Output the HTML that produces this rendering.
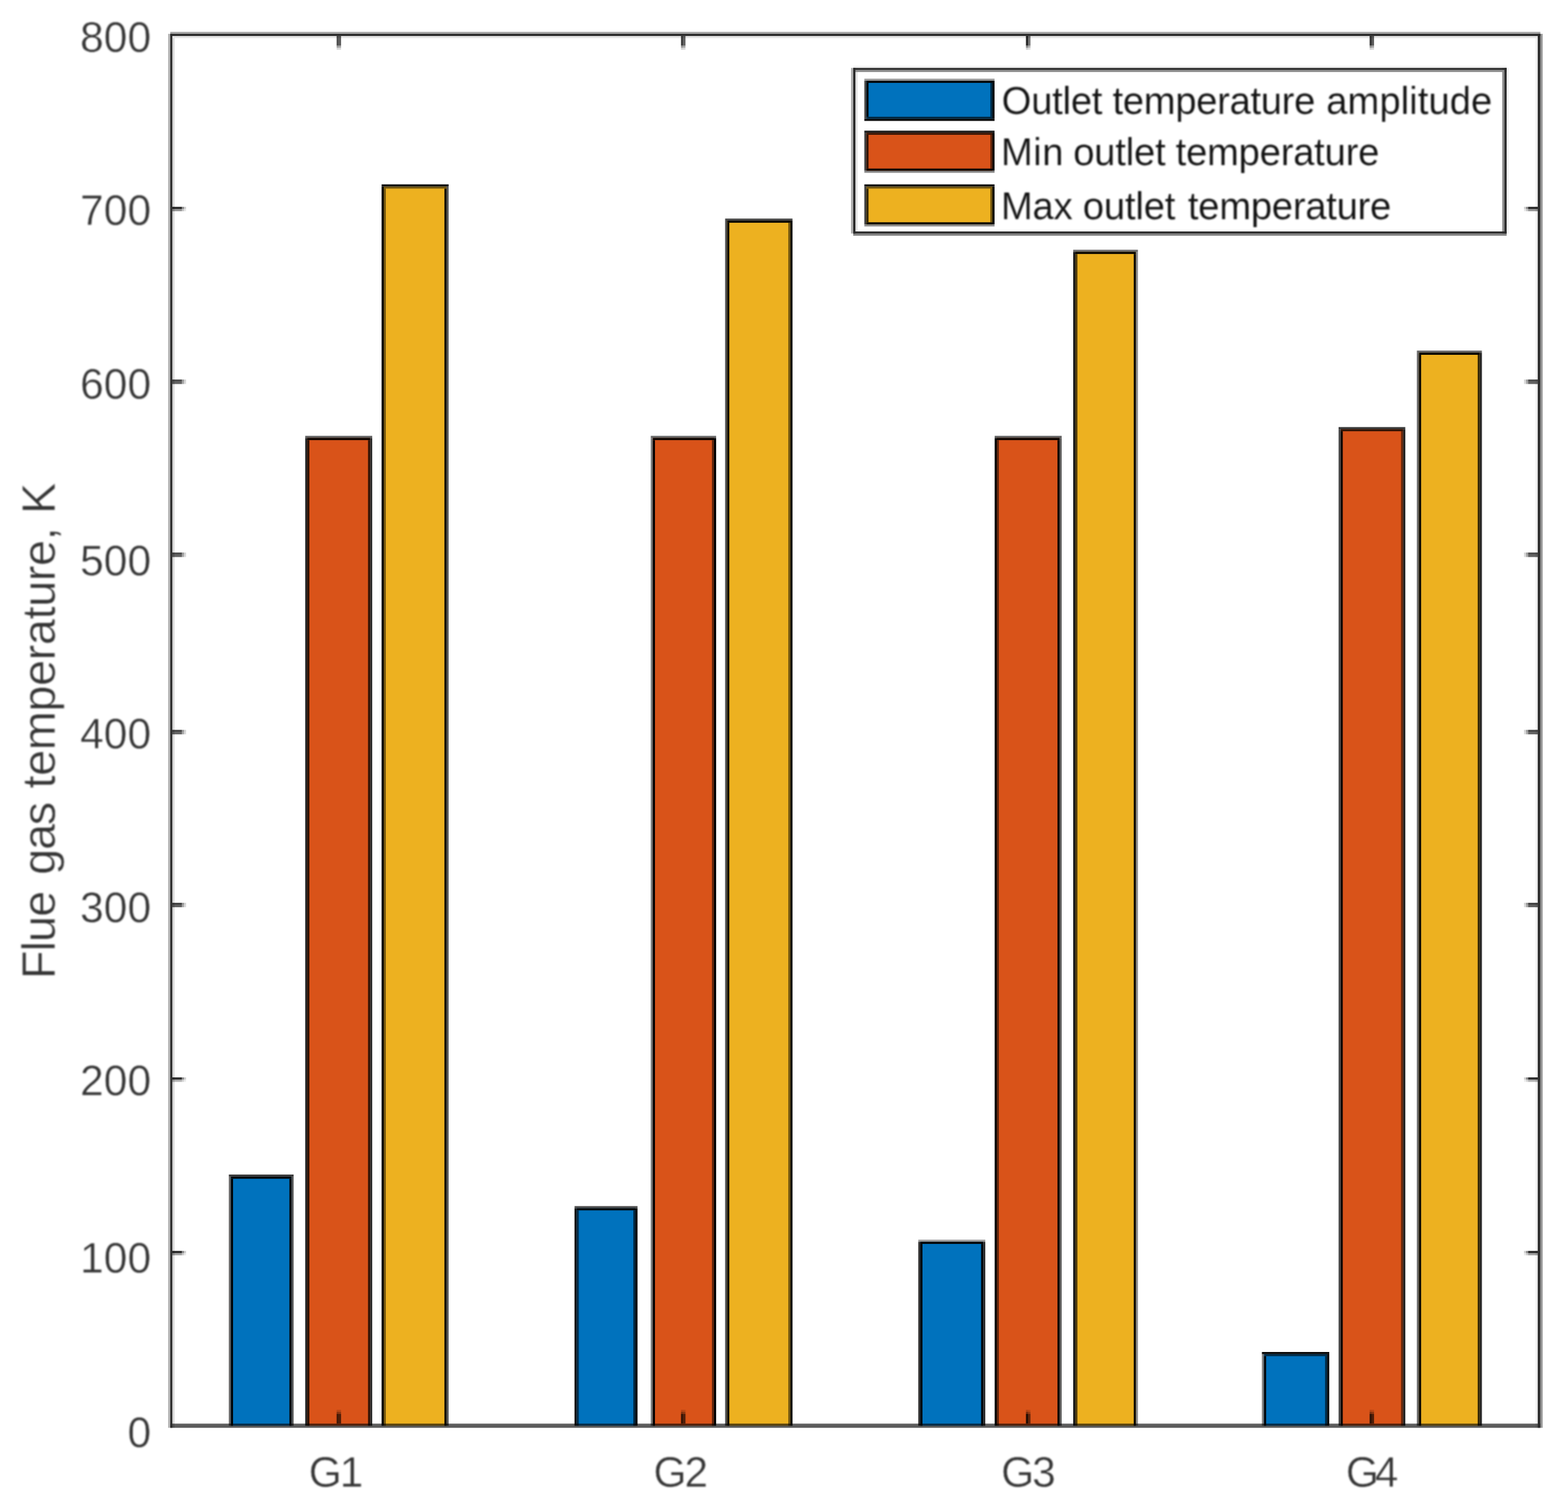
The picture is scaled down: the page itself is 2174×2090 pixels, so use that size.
<!DOCTYPE html>
<html lang="en"><head><meta charset="utf-8"><title>Flue gas temperature chart</title>
<style>
html,body{margin:0;padding:0;background:#fff;}
body{width:2174px;height:2090px;overflow:hidden;}
svg{display:block;}
text{font-family:"Liberation Sans",sans-serif;}
.soft{filter:blur(0.6px);}
.tsoft{filter:blur(1.2px);}
</style></head><body>
<svg width="2174" height="2090" viewBox="0 0 2174 2090" role="img" aria-label="Grouped bar chart of flue gas temperature for G1 to G4">
<rect x="0" y="0" width="2174" height="2090" fill="#ffffff"/>
<g class="soft">
<g fill="#000000">
<rect x="320.2" y="1631.8" width="84" height="345.5" fill="#0072BD"/>
<rect x="320.2" y="1634.7" width="2.9" height="342.6" fill-opacity="1"/>
<rect x="401.3" y="1634.7" width="2.9" height="342.6" fill-opacity="1"/>
<rect x="320.2" y="1631.8" width="84" height="2.9" fill-opacity="0.98"/>
<rect x="317.3" y="1631.8" width="2.9" height="345.5" fill-opacity="0.61"/>
<rect x="404.2" y="1631.8" width="2.9" height="345.5" fill-opacity="0.66"/>
<rect x="317.3" y="1628.9" width="89.8" height="2.9" fill-opacity="0.78"/>
<rect x="426.1" y="607.4" width="87.1" height="1369.9" fill="#D95319"/>
<rect x="426.1" y="610.3" width="2.9" height="1367" fill-opacity="0.77"/>
<rect x="510.3" y="610.3" width="2.9" height="1367" fill-opacity="0.77"/>
<rect x="426.1" y="607.4" width="87.1" height="2.9" fill-opacity="1"/>
<rect x="423.2" y="607.4" width="2.9" height="1369.9" fill-opacity="0.86"/>
<rect x="513.2" y="607.4" width="2.9" height="1369.9" fill-opacity="0.83"/>
<rect x="423.2" y="604.5" width="92.9" height="2.9" fill-opacity="0.64"/>
<rect x="532" y="258.6" width="87.1" height="1718.7" fill="#EDB120"/>
<rect x="532" y="261.5" width="2.9" height="1715.8" fill-opacity="0.52"/>
<rect x="616.2" y="261.5" width="2.9" height="1715.8" fill-opacity="0.94"/>
<rect x="532" y="258.6" width="87.1" height="2.9" fill-opacity="0.52"/>
<rect x="529.1" y="258.6" width="2.9" height="1718.7" fill-opacity="1"/>
<rect x="619.1" y="258.6" width="2.9" height="1718.7" fill-opacity="0.66"/>
<rect x="529.1" y="255.7" width="92.9" height="2.9" fill-opacity="0.98"/>
<rect x="799.5" y="1675.6" width="81.5" height="301.7" fill="#0072BD"/>
<rect x="799.5" y="1678.5" width="2.9" height="298.8" fill-opacity="0.61"/>
<rect x="878.1" y="1678.5" width="2.9" height="298.8" fill-opacity="0.66"/>
<rect x="799.5" y="1675.6" width="81.5" height="2.9" fill-opacity="1"/>
<rect x="796.6" y="1675.6" width="2.9" height="301.7" fill-opacity="1"/>
<rect x="881" y="1675.6" width="2.9" height="301.7" fill-opacity="0.96"/>
<rect x="796.6" y="1672.7" width="87.3" height="2.9" fill-opacity="0.71"/>
<rect x="905.2" y="607.4" width="84.8" height="1369.9" fill="#D95319"/>
<rect x="905.2" y="610.3" width="2.9" height="1367" fill-opacity="1"/>
<rect x="987.1" y="610.3" width="2.9" height="1367" fill-opacity="0.56"/>
<rect x="905.2" y="607.4" width="84.8" height="2.9" fill-opacity="1"/>
<rect x="902.3" y="607.4" width="2.9" height="1369.9" fill-opacity="0.54"/>
<rect x="990" y="607.4" width="2.9" height="1369.9" fill-opacity="1"/>
<rect x="902.3" y="604.5" width="90.6" height="2.9" fill-opacity="0.61"/>
<rect x="1008.3" y="306" width="87.55" height="1671.3" fill="#EDB120"/>
<rect x="1008.3" y="308.9" width="2.9" height="1668.4" fill-opacity="0.96"/>
<rect x="1092.95" y="308.9" width="2.9" height="1668.4" fill-opacity="0.52"/>
<rect x="1008.3" y="306" width="87.55" height="2.9" fill-opacity="0.98"/>
<rect x="1005.4" y="306" width="2.9" height="1671.3" fill-opacity="0.71"/>
<rect x="1095.85" y="306" width="2.9" height="1671.3" fill-opacity="0.99"/>
<rect x="1005.4" y="303.1" width="93.35" height="2.9" fill-opacity="0.71"/>
<rect x="1276.1" y="1722.2" width="87.1" height="255.1" fill="#0072BD"/>
<rect x="1276.1" y="1725.1" width="2.9" height="252.2" fill-opacity="0.96"/>
<rect x="1360.3" y="1725.1" width="2.9" height="252.2" fill-opacity="0.96"/>
<rect x="1276.1" y="1722.2" width="87.1" height="2.9" fill-opacity="1"/>
<rect x="1273.2" y="1722.2" width="2.9" height="255.1" fill-opacity="0.81"/>
<rect x="1363.2" y="1722.2" width="2.9" height="255.1" fill-opacity="0.83"/>
<rect x="1273.2" y="1719.3" width="92.9" height="2.9" fill-opacity="0.39"/>
<rect x="1382" y="607.4" width="87.1" height="1369.9" fill="#D95319"/>
<rect x="1382" y="610.3" width="2.9" height="1367" fill-opacity="0.56"/>
<rect x="1466.2" y="610.3" width="2.9" height="1367" fill-opacity="0.98"/>
<rect x="1382" y="607.4" width="87.1" height="2.9" fill-opacity="1"/>
<rect x="1379.1" y="607.4" width="2.9" height="1369.9" fill-opacity="0.99"/>
<rect x="1469.1" y="607.4" width="2.9" height="1369.9" fill-opacity="0.63"/>
<rect x="1379.1" y="604.5" width="92.9" height="2.9" fill-opacity="0.64"/>
<rect x="1490.9" y="349.3" width="83.9" height="1628" fill="#EDB120"/>
<rect x="1490.9" y="352.2" width="2.9" height="1625.1" fill-opacity="0.66"/>
<rect x="1571.9" y="352.2" width="2.9" height="1625.1" fill-opacity="1"/>
<rect x="1490.9" y="349.3" width="83.9" height="2.9" fill-opacity="1"/>
<rect x="1488" y="349.3" width="2.9" height="1628" fill-opacity="0.91"/>
<rect x="1574.8" y="349.3" width="2.9" height="1628" fill-opacity="0.46"/>
<rect x="1488" y="346.4" width="89.7" height="2.9" fill-opacity="0.58"/>
<rect x="1752.5" y="1877.9" width="87.6" height="99.4" fill="#0072BD"/>
<rect x="1752.5" y="1880.8" width="2.9" height="96.5" fill-opacity="1"/>
<rect x="1837.2" y="1880.8" width="2.9" height="96.5" fill-opacity="0.61"/>
<rect x="1752.5" y="1877.9" width="87.6" height="2.9" fill-opacity="0.61"/>
<rect x="1749.6" y="1877.9" width="2.9" height="99.4" fill-opacity="0.51"/>
<rect x="1840.1" y="1877.9" width="2.9" height="99.4" fill-opacity="1"/>
<rect x="1749.6" y="1875" width="93.4" height="2.9" fill-opacity="0.96"/>
<rect x="1858.8" y="595.2" width="86.7" height="1382.1" fill="#D95319"/>
<rect x="1858.8" y="598.1" width="2.9" height="1379.2" fill-opacity="0.96"/>
<rect x="1942.6" y="598.1" width="2.9" height="1379.2" fill-opacity="0.56"/>
<rect x="1858.8" y="595.2" width="86.7" height="2.9" fill-opacity="0.77"/>
<rect x="1855.9" y="595.2" width="2.9" height="1382.1" fill-opacity="0.71"/>
<rect x="1945.5" y="595.2" width="2.9" height="1382.1" fill-opacity="0.91"/>
<rect x="1855.9" y="592.3" width="92.5" height="2.9" fill-opacity="0.78"/>
<rect x="1967.4" y="489.15" width="84.3" height="1488.15" fill="#EDB120"/>
<rect x="1967.4" y="492.05" width="2.9" height="1485.25" fill-opacity="1"/>
<rect x="2048.8" y="492.05" width="2.9" height="1485.25" fill-opacity="0.79"/>
<rect x="1967.4" y="489.15" width="84.3" height="2.9" fill-opacity="1"/>
<rect x="1964.5" y="489.15" width="2.9" height="1488.15" fill-opacity="0.61"/>
<rect x="2051.7" y="489.15" width="2.9" height="1488.15" fill-opacity="0.86"/>
<rect x="1964.5" y="486.25" width="90.1" height="2.9" fill-opacity="0.61"/>
</g>
<g>
<rect x="233.1" y="46.9" width="3" height="1933.3" fill="#b4b4b4"/>
<rect x="238.9" y="46.9" width="3" height="1933.3" fill="#d8d8d8"/>
<rect x="2129.3" y="46.9" width="2.8" height="1933.3" fill="#ececec"/>
<rect x="2135.7" y="46.9" width="3.1" height="1933.3" fill="#969696"/>
<rect x="236.1" y="44.2" width="1899.6" height="2.7" fill="#a4a4a4"/>
<rect x="236.1" y="49.9" width="1899.6" height="2.9" fill="#e4e4e4"/>
<rect x="236.1" y="1974.4" width="1899.6" height="5.8" fill="rgba(0,0,0,0.64)"/>
<rect x="236.1" y="46.9" width="2.8" height="1933.3" fill="#2a2a2a"/>
<rect x="2132.1" y="46.9" width="3.6" height="1933.3" fill="#2a2a2a"/>
<rect x="236.1" y="46.9" width="1899.6" height="3" fill="#2a2a2a"/>
</g>
<g fill="#000000">
<rect x="238.9" y="286.8" width="13.4" height="3.1" fill-opacity="0.84"/>
<rect x="238.9" y="289.9" width="13.4" height="3.1" fill-opacity="0.4"/>
<rect x="252.3" y="286.8" width="2.9" height="3.1" fill-opacity="0.46"/>
<rect x="252.3" y="289.9" width="2.9" height="3.1" fill-opacity="0.22"/>
<rect x="255.2" y="286.8" width="2.9" height="3.1" fill-opacity="0.18"/>
<rect x="255.2" y="289.9" width="2.9" height="3.1" fill-opacity="0.09"/>
<rect x="2118.7" y="286.8" width="13.4" height="3.1" fill-opacity="0.84"/>
<rect x="2118.7" y="289.9" width="13.4" height="3.1" fill-opacity="0.4"/>
<rect x="2115.8" y="286.8" width="2.9" height="3.1" fill-opacity="0.46"/>
<rect x="2115.8" y="289.9" width="2.9" height="3.1" fill-opacity="0.22"/>
<rect x="2112.9" y="286.8" width="2.9" height="3.1" fill-opacity="0.18"/>
<rect x="2112.9" y="289.9" width="2.9" height="3.1" fill-opacity="0.09"/>
<rect x="238.9" y="526.35" width="13.4" height="3.1" fill-opacity="0.72"/>
<rect x="238.9" y="529.45" width="13.4" height="3.1" fill-opacity="0.63"/>
<rect x="252.3" y="526.35" width="2.9" height="3.1" fill-opacity="0.4"/>
<rect x="252.3" y="529.45" width="2.9" height="3.1" fill-opacity="0.35"/>
<rect x="255.2" y="526.35" width="2.9" height="3.1" fill-opacity="0.16"/>
<rect x="255.2" y="529.45" width="2.9" height="3.1" fill-opacity="0.14"/>
<rect x="2118.7" y="526.35" width="13.4" height="3.1" fill-opacity="0.72"/>
<rect x="2118.7" y="529.45" width="13.4" height="3.1" fill-opacity="0.63"/>
<rect x="2115.8" y="526.35" width="2.9" height="3.1" fill-opacity="0.4"/>
<rect x="2115.8" y="529.45" width="2.9" height="3.1" fill-opacity="0.35"/>
<rect x="2112.9" y="526.35" width="2.9" height="3.1" fill-opacity="0.16"/>
<rect x="2112.9" y="529.45" width="2.9" height="3.1" fill-opacity="0.14"/>
<rect x="238.9" y="766.3" width="13.4" height="3.1" fill-opacity="0.72"/>
<rect x="238.9" y="769.4" width="13.4" height="3.1" fill-opacity="0.63"/>
<rect x="252.3" y="766.3" width="2.9" height="3.1" fill-opacity="0.4"/>
<rect x="252.3" y="769.4" width="2.9" height="3.1" fill-opacity="0.35"/>
<rect x="255.2" y="766.3" width="2.9" height="3.1" fill-opacity="0.16"/>
<rect x="255.2" y="769.4" width="2.9" height="3.1" fill-opacity="0.14"/>
<rect x="2118.7" y="766.3" width="13.4" height="3.1" fill-opacity="0.72"/>
<rect x="2118.7" y="769.4" width="13.4" height="3.1" fill-opacity="0.63"/>
<rect x="2115.8" y="766.3" width="2.9" height="3.1" fill-opacity="0.4"/>
<rect x="2115.8" y="769.4" width="2.9" height="3.1" fill-opacity="0.35"/>
<rect x="2112.9" y="766.3" width="2.9" height="3.1" fill-opacity="0.16"/>
<rect x="2112.9" y="769.4" width="2.9" height="3.1" fill-opacity="0.14"/>
<rect x="238.9" y="1012.2" width="13.4" height="3.1" fill-opacity="0.72"/>
<rect x="238.9" y="1015.3" width="13.4" height="3.1" fill-opacity="0.63"/>
<rect x="252.3" y="1012.2" width="2.9" height="3.1" fill-opacity="0.4"/>
<rect x="252.3" y="1015.3" width="2.9" height="3.1" fill-opacity="0.35"/>
<rect x="255.2" y="1012.2" width="2.9" height="3.1" fill-opacity="0.16"/>
<rect x="255.2" y="1015.3" width="2.9" height="3.1" fill-opacity="0.14"/>
<rect x="2118.7" y="1012.2" width="13.4" height="3.1" fill-opacity="0.72"/>
<rect x="2118.7" y="1015.3" width="13.4" height="3.1" fill-opacity="0.63"/>
<rect x="2115.8" y="1012.2" width="2.9" height="3.1" fill-opacity="0.4"/>
<rect x="2115.8" y="1015.3" width="2.9" height="3.1" fill-opacity="0.35"/>
<rect x="2112.9" y="1012.2" width="2.9" height="3.1" fill-opacity="0.16"/>
<rect x="2112.9" y="1015.3" width="2.9" height="3.1" fill-opacity="0.14"/>
<rect x="238.9" y="1252" width="13.4" height="3.1" fill-opacity="0.72"/>
<rect x="238.9" y="1255.1" width="13.4" height="3.1" fill-opacity="0.63"/>
<rect x="252.3" y="1252" width="2.9" height="3.1" fill-opacity="0.4"/>
<rect x="252.3" y="1255.1" width="2.9" height="3.1" fill-opacity="0.35"/>
<rect x="255.2" y="1252" width="2.9" height="3.1" fill-opacity="0.16"/>
<rect x="255.2" y="1255.1" width="2.9" height="3.1" fill-opacity="0.14"/>
<rect x="2118.7" y="1252" width="13.4" height="3.1" fill-opacity="0.72"/>
<rect x="2118.7" y="1255.1" width="13.4" height="3.1" fill-opacity="0.63"/>
<rect x="2115.8" y="1252" width="2.9" height="3.1" fill-opacity="0.4"/>
<rect x="2115.8" y="1255.1" width="2.9" height="3.1" fill-opacity="0.35"/>
<rect x="2112.9" y="1252" width="2.9" height="3.1" fill-opacity="0.16"/>
<rect x="2112.9" y="1255.1" width="2.9" height="3.1" fill-opacity="0.14"/>
<rect x="238.9" y="1494.2" width="13.4" height="3.1" fill-opacity="0.84"/>
<rect x="238.9" y="1497.3" width="13.4" height="3.1" fill-opacity="0.3"/>
<rect x="252.3" y="1494.2" width="2.9" height="3.1" fill-opacity="0.46"/>
<rect x="252.3" y="1497.3" width="2.9" height="3.1" fill-opacity="0.17"/>
<rect x="255.2" y="1494.2" width="2.9" height="3.1" fill-opacity="0.18"/>
<rect x="255.2" y="1497.3" width="2.9" height="3.1" fill-opacity="0.07"/>
<rect x="2118.7" y="1494.2" width="13.4" height="3.1" fill-opacity="0.84"/>
<rect x="2118.7" y="1497.3" width="13.4" height="3.1" fill-opacity="0.3"/>
<rect x="2115.8" y="1494.2" width="2.9" height="3.1" fill-opacity="0.46"/>
<rect x="2115.8" y="1497.3" width="2.9" height="3.1" fill-opacity="0.17"/>
<rect x="2112.9" y="1494.2" width="2.9" height="3.1" fill-opacity="0.18"/>
<rect x="2112.9" y="1497.3" width="2.9" height="3.1" fill-opacity="0.07"/>
<rect x="238.9" y="1734.8" width="13.4" height="3.1" fill-opacity="0.84"/>
<rect x="238.9" y="1737.9" width="13.4" height="3.1" fill-opacity="0.36"/>
<rect x="252.3" y="1734.8" width="2.9" height="3.1" fill-opacity="0.46"/>
<rect x="252.3" y="1737.9" width="2.9" height="3.1" fill-opacity="0.2"/>
<rect x="255.2" y="1734.8" width="2.9" height="3.1" fill-opacity="0.18"/>
<rect x="255.2" y="1737.9" width="2.9" height="3.1" fill-opacity="0.08"/>
<rect x="2118.7" y="1734.8" width="13.4" height="3.1" fill-opacity="0.84"/>
<rect x="2118.7" y="1737.9" width="13.4" height="3.1" fill-opacity="0.36"/>
<rect x="2115.8" y="1734.8" width="2.9" height="3.1" fill-opacity="0.46"/>
<rect x="2115.8" y="1737.9" width="2.9" height="3.1" fill-opacity="0.2"/>
<rect x="2112.9" y="1734.8" width="2.9" height="3.1" fill-opacity="0.18"/>
<rect x="2112.9" y="1737.9" width="2.9" height="3.1" fill-opacity="0.08"/>
<rect x="466.7" y="1961" width="3.1" height="13.4" fill-opacity="0.7"/>
<rect x="469.8" y="1961" width="3.1" height="13.4" fill-opacity="0.64"/>
<rect x="466.7" y="1958.1" width="3.1" height="2.9" fill-opacity="0.39"/>
<rect x="469.8" y="1958.1" width="3.1" height="2.9" fill-opacity="0.35"/>
<rect x="466.7" y="1955.2" width="3.1" height="2.9" fill-opacity="0.15"/>
<rect x="469.8" y="1955.2" width="3.1" height="2.9" fill-opacity="0.14"/>
<rect x="466.7" y="49.9" width="3.1" height="13.4" fill-opacity="0.7"/>
<rect x="469.8" y="49.9" width="3.1" height="13.4" fill-opacity="0.64"/>
<rect x="466.7" y="63.3" width="3.1" height="2.9" fill-opacity="0.39"/>
<rect x="469.8" y="63.3" width="3.1" height="2.9" fill-opacity="0.35"/>
<rect x="466.7" y="66.2" width="3.1" height="2.9" fill-opacity="0.15"/>
<rect x="469.8" y="66.2" width="3.1" height="2.9" fill-opacity="0.14"/>
<rect x="944.2" y="1961" width="3.1" height="13.4" fill-opacity="0.76"/>
<rect x="947.3" y="1961" width="3.1" height="13.4" fill-opacity="0.64"/>
<rect x="944.2" y="1958.1" width="3.1" height="2.9" fill-opacity="0.42"/>
<rect x="947.3" y="1958.1" width="3.1" height="2.9" fill-opacity="0.35"/>
<rect x="944.2" y="1955.2" width="3.1" height="2.9" fill-opacity="0.17"/>
<rect x="947.3" y="1955.2" width="3.1" height="2.9" fill-opacity="0.14"/>
<rect x="944.2" y="49.9" width="3.1" height="13.4" fill-opacity="0.76"/>
<rect x="947.3" y="49.9" width="3.1" height="13.4" fill-opacity="0.64"/>
<rect x="944.2" y="63.3" width="3.1" height="2.9" fill-opacity="0.42"/>
<rect x="947.3" y="63.3" width="3.1" height="2.9" fill-opacity="0.35"/>
<rect x="944.2" y="66.2" width="3.1" height="2.9" fill-opacity="0.17"/>
<rect x="947.3" y="66.2" width="3.1" height="2.9" fill-opacity="0.14"/>
<rect x="1422.5" y="1961" width="3.1" height="13.4" fill-opacity="0.88"/>
<rect x="1425.6" y="1961" width="3.1" height="13.4" fill-opacity="0.55"/>
<rect x="1422.5" y="1958.1" width="3.1" height="2.9" fill-opacity="0.48"/>
<rect x="1425.6" y="1958.1" width="3.1" height="2.9" fill-opacity="0.3"/>
<rect x="1422.5" y="1955.2" width="3.1" height="2.9" fill-opacity="0.19"/>
<rect x="1425.6" y="1955.2" width="3.1" height="2.9" fill-opacity="0.12"/>
<rect x="1422.5" y="49.9" width="3.1" height="13.4" fill-opacity="0.88"/>
<rect x="1425.6" y="49.9" width="3.1" height="13.4" fill-opacity="0.55"/>
<rect x="1422.5" y="63.3" width="3.1" height="2.9" fill-opacity="0.48"/>
<rect x="1425.6" y="63.3" width="3.1" height="2.9" fill-opacity="0.3"/>
<rect x="1422.5" y="66.2" width="3.1" height="2.9" fill-opacity="0.19"/>
<rect x="1425.6" y="66.2" width="3.1" height="2.9" fill-opacity="0.12"/>
<rect x="1898.9" y="1961" width="3.1" height="13.4" fill-opacity="0.76"/>
<rect x="1902" y="1961" width="3.1" height="13.4" fill-opacity="0.64"/>
<rect x="1898.9" y="1958.1" width="3.1" height="2.9" fill-opacity="0.42"/>
<rect x="1902" y="1958.1" width="3.1" height="2.9" fill-opacity="0.35"/>
<rect x="1898.9" y="1955.2" width="3.1" height="2.9" fill-opacity="0.17"/>
<rect x="1902" y="1955.2" width="3.1" height="2.9" fill-opacity="0.14"/>
<rect x="1898.9" y="49.9" width="3.1" height="13.4" fill-opacity="0.76"/>
<rect x="1902" y="49.9" width="3.1" height="13.4" fill-opacity="0.64"/>
<rect x="1898.9" y="63.3" width="3.1" height="2.9" fill-opacity="0.42"/>
<rect x="1902" y="63.3" width="3.1" height="2.9" fill-opacity="0.35"/>
<rect x="1898.9" y="66.2" width="3.1" height="2.9" fill-opacity="0.17"/>
<rect x="1902" y="66.2" width="3.1" height="2.9" fill-opacity="0.14"/>
</g>
<rect x="1183" y="94.2" width="905.9" height="232.7" fill="#ffffff"/>
<g>
<rect x="1179.9" y="94.2" width="3.1" height="229.6" fill="#acacac"/>
<rect x="1186" y="94.2" width="2.8" height="229.6" fill="#dedede"/>
<rect x="2082.8" y="94.2" width="3" height="229.6" fill="#8c8c8c"/>
<rect x="2088.9" y="94.2" width="2.8" height="229.6" fill="#f0f0f0"/>
<rect x="1183" y="91.4" width="905.9" height="2.8" fill="#f0f0f0"/>
<rect x="1183" y="96.9" width="905.9" height="3" fill="#8e8e8e"/>
<rect x="1183" y="323.8" width="905.9" height="3.1" fill="#828282"/>
<rect x="1183" y="94.2" width="3" height="229.6" fill="#2a2a2a"/>
<rect x="2085.8" y="94.2" width="3.1" height="229.6" fill="#2a2a2a"/>
<rect x="1183" y="94.2" width="905.9" height="2.7" fill="#2a2a2a"/>
<rect x="1183" y="321" width="905.9" height="2.8" fill="#2a2a2a"/>
</g>
<g fill="#000000">
<rect x="1201.3" y="112" width="174.7" height="52.8" fill="#0072BD"/>
<rect x="1201.3" y="114.9" width="2.9" height="47" fill-opacity="0.96"/>
<rect x="1373.1" y="114.9" width="2.9" height="47" fill-opacity="0.61"/>
<rect x="1201.3" y="112" width="174.7" height="2.9" fill-opacity="1"/>
<rect x="1201.3" y="161.9" width="174.7" height="2.9" fill-opacity="0.66"/>
<rect x="1198.4" y="112" width="2.9" height="52.8" fill-opacity="0.73"/>
<rect x="1376" y="112" width="2.9" height="52.8" fill-opacity="0.96"/>
<rect x="1198.4" y="109.1" width="180.5" height="2.9" fill-opacity="0.39"/>
<rect x="1198.4" y="164.8" width="180.5" height="2.9" fill-opacity="0.96"/>
<rect x="1201.3" y="184.1" width="174.7" height="52.6" fill="#D95319"/>
<rect x="1201.3" y="187" width="2.9" height="46.8" fill-opacity="0.78"/>
<rect x="1373.1" y="187" width="2.9" height="46.8" fill-opacity="0.56"/>
<rect x="1201.3" y="184.1" width="174.7" height="2.9" fill-opacity="0.71"/>
<rect x="1201.3" y="233.8" width="174.7" height="2.9" fill-opacity="0.99"/>
<rect x="1198.4" y="184.1" width="2.9" height="52.6" fill-opacity="0.76"/>
<rect x="1376" y="184.1" width="2.9" height="52.6" fill-opacity="0.98"/>
<rect x="1198.4" y="181.2" width="180.5" height="2.9" fill-opacity="0.88"/>
<rect x="1198.4" y="236.7" width="180.5" height="2.9" fill-opacity="0.48"/>
<rect x="1201.3" y="258.6" width="174.7" height="52.6" fill="#EDB120"/>
<rect x="1201.3" y="261.5" width="2.9" height="46.8" fill-opacity="0.79"/>
<rect x="1373.1" y="261.5" width="2.9" height="46.8" fill-opacity="0.52"/>
<rect x="1201.3" y="258.6" width="174.7" height="2.9" fill-opacity="0.52"/>
<rect x="1201.3" y="308.3" width="174.7" height="2.9" fill-opacity="1"/>
<rect x="1198.4" y="258.6" width="2.9" height="52.6" fill-opacity="0.76"/>
<rect x="1376" y="258.6" width="2.9" height="52.6" fill-opacity="0.99"/>
<rect x="1198.4" y="255.7" width="180.5" height="2.9" fill-opacity="0.96"/>
<rect x="1198.4" y="311.2" width="180.5" height="2.9" fill-opacity="0.43"/>
</g>
</g>
<g class="tsoft" stroke="#ffffff" stroke-width="0.6" paint-order="fill stroke" stroke-linejoin="round">
<g fill="#353535" font-size="59">
<text x="209.5" y="71.55" text-anchor="end">800</text>
<text x="209.5" y="312.05" text-anchor="end">700</text>
<text x="209.5" y="552.85" text-anchor="end">600</text>
<text x="209.5" y="797.55" text-anchor="end">500</text>
<text x="209.5" y="1038.35" text-anchor="end">400</text>
<text x="209.5" y="1279.25" text-anchor="end">300</text>
<text x="209.5" y="1519.25" text-anchor="end">200</text>
<text x="209.5" y="1765.15" text-anchor="end">100</text>
<text x="209.5" y="2007.05" text-anchor="end">0</text>
<text x="428" y="2062" letter-spacing="-3">G1</text>
<text x="905.9" y="2062" letter-spacing="-2.9">G2</text>
<text x="1388" y="2062" letter-spacing="-2.9">G3</text>
<text x="1865.9" y="2062" letter-spacing="-5.7">G4</text>
</g>
<text transform="translate(76.1 2090) rotate(-90)" font-size="65" fill="#353535"><tspan x="732" letter-spacing="-1.27">Flue </tspan><tspan x="876.7" letter-spacing="-1.7">gas </tspan><tspan x="996.4" letter-spacing="-0.56">temperature, </tspan><tspan x="1377.2" letter-spacing="0">K</tspan></text>
<g fill="#121212" font-size="53" stroke-width="0.2">
<text y="158.3"><tspan x="1388.8" letter-spacing="-0.34">Outlet </tspan><tspan x="1542.5" letter-spacing="-0.45">temperature </tspan><tspan x="1838.8" letter-spacing="0.04">amplitude</tspan></text>
<text y="229.1"><tspan x="1387.7" letter-spacing="0.65">Min </tspan><tspan x="1487.9" letter-spacing="-0.26">outlet </tspan><tspan x="1630" letter-spacing="-0.33">temperature</tspan></text>
<text y="303.9"><tspan x="1387.7" letter-spacing="-0.3">Max </tspan><tspan x="1501.3" letter-spacing="-0.26">outlet </tspan><tspan x="1647" letter-spacing="-0.37">temperature</tspan></text>
</g>
</g>
</svg>
</body></html>
